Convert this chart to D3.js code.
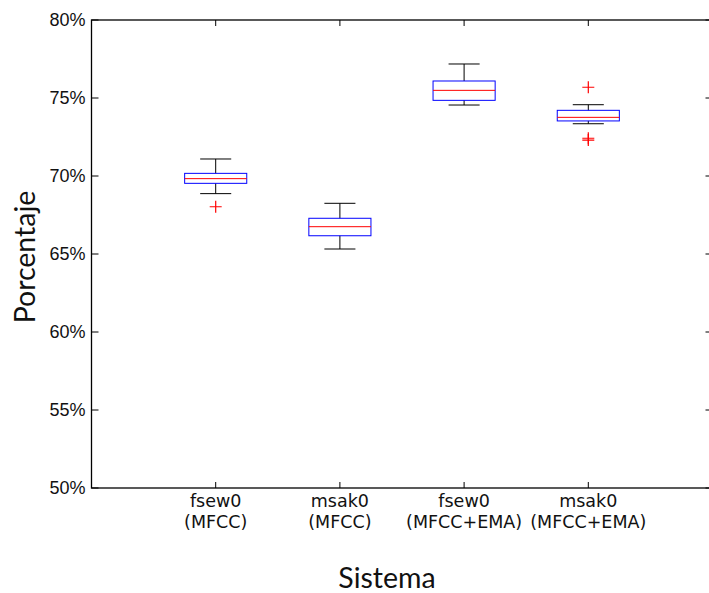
<!DOCTYPE html>
<html>
<head>
<meta charset="utf-8">
<script src="https://cdn.jsdelivr.net/npm/d3@7"></script>
<style>
html,body{margin:0;padding:0;background:#fff;}
svg{display:block;}
</style>
</head>
<body>
<svg id="chart" width="709" height="593"></svg>
<script>
// Data (percent values)
const categories = ["fsew0\n(MFCC)", "msak0\n(MFCC)", "fsew0\n(MFCC+EMA)", "msak0\n(MFCC+EMA)"];
const whiskerLow  = [68.87, 65.32, 74.55, 73.35];
const boxQ1       = [69.53, 66.17, 74.85, 73.53];
const boxMedian   = [69.83, 66.75, 75.49, 73.76];
const boxQ3       = [70.17, 67.29, 76.09, 74.21];
const whiskerHigh = [71.09, 68.25, 77.18, 74.57];
const outliers    = [[68.03], [], [], [75.69, 72.42, 72.30]];
const yTicks = [50, 55, 60, 65, 70, 75, 80];

const svg = d3.select("#chart");
const mLeft = 91.5, mRight = 712.5, mTop = 20, mBottom = 488;

const x = d3.scaleLinear().domain([0, categories.length + 1]).range([mLeft, mRight]);
const y = d3.scaleLinear().domain([50, 80]).range([mBottom, mTop]);
const boxW = 0.5, capW = 0.25;

// frame
svg.append("rect").attr("x", mLeft).attr("y", mTop).attr("width", mRight-mLeft).attr("height", mBottom-mTop)
  .attr("fill", "none").attr("stroke", "#000").attr("stroke-width", 1.3);

// ticks (inward)
const tickG = svg.append("g").attr("stroke", "#000").attr("stroke-width", 1);
yTicks.forEach(t => {
  tickG.append("line").attr("x1", mLeft).attr("x2", mLeft+7).attr("y1", y(t)).attr("y2", y(t));
  tickG.append("line").attr("x1", mRight).attr("x2", mRight-7).attr("y1", y(t)).attr("y2", y(t));
});
categories.forEach((c, i) => {
  const xc = x(i+1);
  tickG.append("line").attr("x1", xc).attr("x2", xc).attr("y1", mBottom).attr("y2", mBottom-6);
  tickG.append("line").attr("x1", xc).attr("x2", xc).attr("y1", mTop).attr("y2", mTop+6);
});

// y tick labels
svg.append("g").selectAll("text").data(yTicks).join("text")
  .attr("x", mLeft - 6).attr("y", d => y(d)).attr("dy", "0.36em")
  .attr("text-anchor", "end")
  .attr("font-family", "Liberation Sans, Arial, sans-serif").attr("font-size", 18)
  .attr("fill", "#111")
  .text(d => d + "%");

// x tick labels
const xl = svg.append("g");
categories.forEach((c, i) => {
  const t = xl.append("text").attr("x", x(i+1)).attr("y", 507)
    .attr("text-anchor", "middle")
    .attr("font-family", "DejaVu Sans, sans-serif").attr("font-size", 17.5).attr("fill", "#111");
  c.split("\n").forEach((line, j) => {
    t.append("tspan").attr("x", x(i+1)).attr("dy", j === 0 ? 0 : 21).text(line);
  });
});

// axis titles
svg.append("text").attr("x", 387).attr("y", 588).attr("text-anchor", "middle")
  .attr("font-family", "Lato, sans-serif").attr("font-size", 28.5).attr("fill", "#111").text("Sistema");
svg.append("text").attr("transform", "translate(35,257) rotate(-90)").attr("text-anchor", "middle")
  .attr("font-family", "Lato, sans-serif").attr("font-size", 28.5).attr("fill", "#111").text("Porcentaje");

// boxes
const bg = svg.append("g");
categories.forEach((c, i) => {
  const p = i + 1;
  const g = bg.append("g");
  g.append("line").attr("x1", x(p)).attr("x2", x(p)).attr("y1", y(boxQ3[i])).attr("y2", y(whiskerHigh[i]))
    .attr("stroke", "#000").attr("stroke-width", 1);
  g.append("line").attr("x1", x(p)).attr("x2", x(p)).attr("y1", y(boxQ1[i])).attr("y2", y(whiskerLow[i]))
    .attr("stroke", "#000").attr("stroke-width", 1);
  [whiskerHigh[i], whiskerLow[i]].forEach(v => {
    g.append("line").attr("x1", x(p - capW/2)).attr("x2", x(p + capW/2)).attr("y1", y(v)).attr("y2", y(v))
      .attr("stroke", "#000").attr("stroke-width", 1);
  });
  g.append("rect").attr("x", x(p - boxW/2)).attr("y", y(boxQ3[i]))
    .attr("width", x(p + boxW/2) - x(p - boxW/2)).attr("height", y(boxQ1[i]) - y(boxQ3[i]))
    .attr("fill", "none").attr("stroke", "#0000ff").attr("stroke-width", 1);
  g.append("line").attr("x1", x(p - boxW/2)).attr("x2", x(p + boxW/2)).attr("y1", y(boxMedian[i])).attr("y2", y(boxMedian[i]))
    .attr("stroke", "#ff0000").attr("stroke-width", 1);
  outliers[i].forEach(v => {
    g.append("path").attr("d", `M${x(p)-6},${y(v)}H${x(p)+6}M${x(p)},${y(v)-6}V${y(v)+6}`)
      .attr("stroke", "#ff0000").attr("stroke-width", 1.2).attr("fill", "none");
  });
});
</script>
</body>
</html>
